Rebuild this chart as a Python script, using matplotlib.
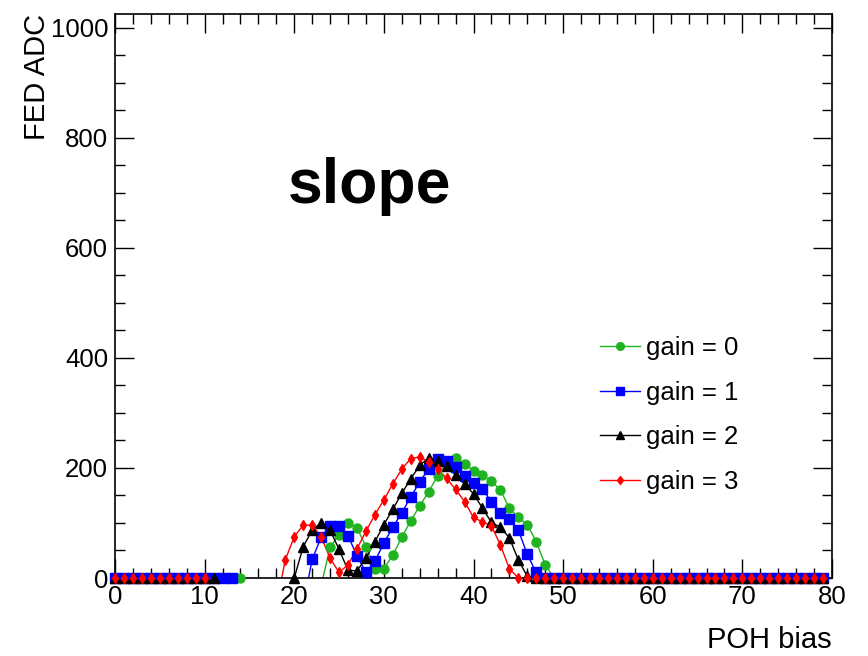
import numpy as np
import matplotlib
matplotlib.use("Agg")
import matplotlib.pyplot as plt
from matplotlib.ticker import MultipleLocator

plt.rcParams['font.family'] = ['Liberation Sans', 'DejaVu Sans']

x = list(range(80))

gain0 = ([0]*15 + [-20]*8 + [-14,
         56, 79, 100, 91, 57, 16, 17, 42, 74, 104, 131, 157, 186, 210, 218,
         207, 195, 187, 176, 160, 127, 110, 97, 66, 24] + [0]*31)
gain1 = ([0]*14 + [-20]*7 + [-50,
         34, 74, 95, 95, 77, 40, 10, 30, 64, 92, 119, 147, 175, 198, 216,
         213, 202, 186, 172, 161, 139, 119, 108, 87, 43, 10] + [0]*32)
gain2 = ([0]*12 + [-20]*8 + [0,
         57, 87, 100, 87, 52, 14, 13, 36, 66, 97, 125, 154, 180, 205, 218,
         213, 203, 187, 171, 153, 127, 101, 92, 73, 33, 3] + [0]*33)
gain3 = ([0]*11 + [-20]*7 + [-50,
         33, 75, 96, 96, 75, 36, 10, 24, 53, 85, 115, 142, 171, 198, 217,
         220, 211, 199, 181, 161, 139, 110, 102, 95, 60, 17] + [0]*35)

series = [gain0, gain1, gain2, gain3]
labels = ["gain = 0", "gain = 1", "gain = 2", "gain = 3"]
colors = ["#1fb41f", "#0000ff", "#000000", "#ff0000"]
markers = ["o", "s", "^", "d"]
msizes = [6.5, 6.5, 6.5, 5]

W, H = 868, 656
fig = plt.figure(figsize=(W/100, H/100), dpi=100)
L, R, T, B = 115, 832, 14, 578
ax = fig.add_axes([L/W, 1-B/H, (R-L)/W, (B-T)/H])

handles = []
for y, lab, c, m, ms in zip(series, labels, colors, markers, msizes):
    xa = np.array(x); ya = np.array(y, dtype=float)
    ax.plot(xa, ya, '-', color=c, lw=1.0, zorder=2)
    mask = ya >= 0
    ax.plot(xa[mask], ya[mask], ls='none', marker=m, ms=ms, color=c,
            mec=c, clip_on=False, zorder=3)
    h, = ax.plot([], [], '-', color=c, lw=1.0, marker=m, ms=ms*0.85, mec=c)
    handles.append(h)

ax.set_xlim(0, 80)
ax.set_ylim(0, 1025)
ax.xaxis.set_major_locator(MultipleLocator(10))
ax.xaxis.set_minor_locator(MultipleLocator(2))
ax.yaxis.set_major_locator(MultipleLocator(200))
ax.yaxis.set_minor_locator(MultipleLocator(50))
ax.tick_params(which='both', direction='in', top=True, right=True,
               labelsize=18.5, width=1.0)
ax.tick_params(which='major', length=14)
ax.tick_params(which='minor', length=7)
ax.tick_params(axis='x', pad=5)
ax.tick_params(axis='y', pad=5)
for s in ax.spines.values():
    s.set_linewidth(1.2)

fig.text(832/W, 1-648/H, "POH bias", ha='right', va='baseline', fontsize=21)
fig.text(37/W, 1-14/H, "FED ADC", ha='center', va='top', rotation=90, fontsize=21)
fig.text(370/W, 1-187/H, "slope", ha='center', va='center', fontsize=45,
         fontweight='bold')

leg = ax.legend(handles, labels, loc='upper left',
                bbox_to_anchor=(600/W, 1-336/H), bbox_transform=fig.transFigure,
                frameon=False, fontsize=18.5, handlelength=1.55,
                handletextpad=0.25, labelspacing=0.8, borderpad=0, borderaxespad=0,
                numpoints=1)

fig.savefig("out.png", dpi=100)
